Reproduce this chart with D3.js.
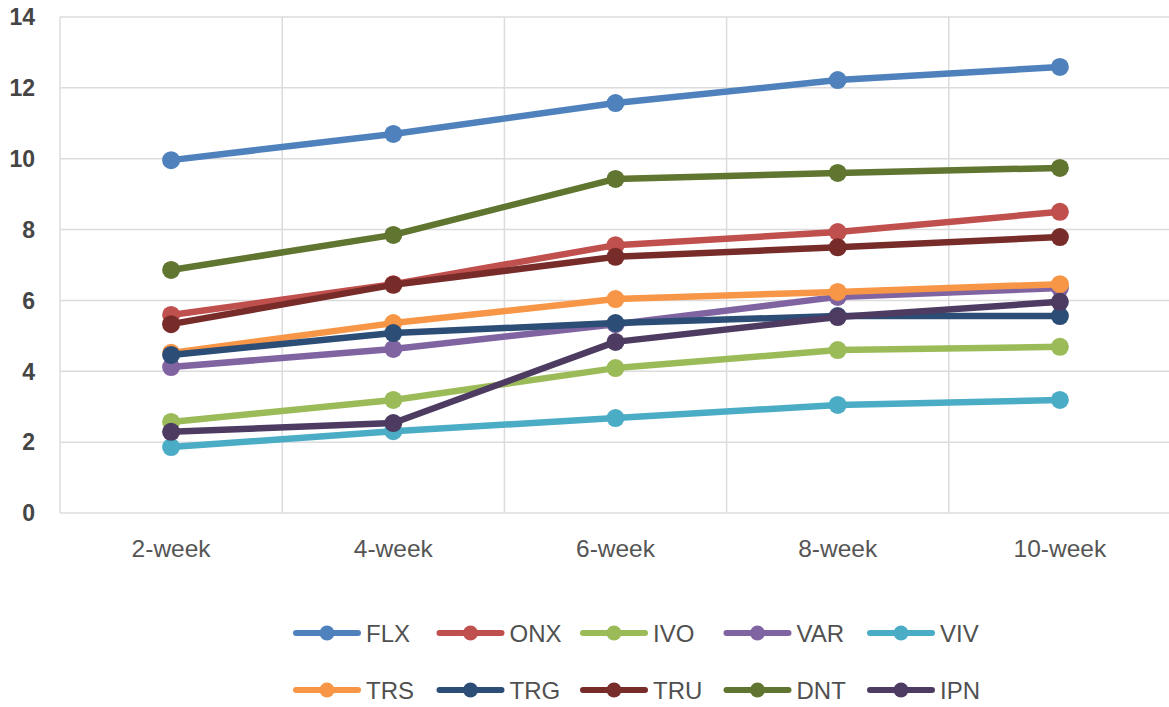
<!DOCTYPE html>
<html>
<head>
<meta charset="utf-8">
<script src="https://cdn.jsdelivr.net/npm/d3@7"></script>
<style>
  body { margin: 0; background: #fff; }
  svg { display: block; font-family: "Liberation Sans", Arial, sans-serif; }
</style>
</head>
<body>
<svg id="chart" width="1169" height="707"></svg>
<script>
var weeks = ['2-week', '4-week', '6-week', '8-week', '10-week'];
var yTicks = [0, 2, 4, 6, 8, 10, 12, 14];

var names = ['FLX', 'ONX', 'IVO', 'VAR', 'VIV', 'TRS', 'TRG', 'TRU', 'DNT', 'IPN'];
var colors = ['#4f81bd', '#c0504d', '#9bbb59', '#8064a2', '#4bacc6',
              '#f79646', '#2c4d75', '#772c2a', '#5f7530', '#4d3b62'];

var FLX = [9.96, 10.7, 11.57, 12.22, 12.59];
var ONX = [5.59, 6.46, 7.56, 7.93, 8.5];
var IVO = [2.57, 3.19, 4.09, 4.6, 4.69];
var VAR = [4.12, 4.63, 5.33, 6.1, 6.35];
var VIV = [1.86, 2.31, 2.68, 3.05, 3.19];
var TRS = [4.52, 5.36, 6.04, 6.24, 6.46];
var TRG = [4.46, 5.08, 5.36, 5.56, 5.56];
var TRU = [5.33, 6.44, 7.23, 7.5, 7.79];
var DNT = [6.86, 7.85, 9.43, 9.6, 9.74];
var IPN = [2.29, 2.54, 4.83, 5.53, 5.96];

var seriesVals = [FLX, ONX, IVO, VAR, VIV, TRS, TRG, TRU, DNT, IPN];

var svg = d3.select('#chart');
var plotLeft = 60, plotRight = 1171, plotTop = 17, plotBottom = 513;

var x = d3.scaleBand().domain(weeks).range([plotLeft, plotRight]);
var y = d3.scaleLinear().domain([0, 14]).range([plotBottom, plotTop]);

// grid
var grid = svg.append('g');
grid.selectAll('line.h').data(yTicks).enter().append('line')
    .attr('x1', plotLeft).attr('x2', plotRight)
    .attr('y1', d => y(d)).attr('y2', d => y(d))
    .attr('stroke', '#dcdcdc').attr('stroke-width', 1.5);
var vx = weeks.map(w => x(w)).concat([plotRight]);
grid.selectAll('line.v').data(vx).enter().append('line')
    .attr('x1', d => d).attr('x2', d => d)
    .attr('y1', plotTop).attr('y2', plotBottom)
    .attr('stroke', '#dcdcdc').attr('stroke-width', 1.5);

// y labels
svg.append('g').selectAll('text').data(yTicks).enter().append('text')
    .attr('x', 35).attr('y', d => y(d))
    .attr('dy', '0.36em')
    .attr('text-anchor', 'end')
    .attr('font-size', 23).attr('font-weight', 'bold')
    .attr('fill', '#454545')
    .text(d => d);

// x labels
svg.append('g').selectAll('text').data(weeks).enter().append('text')
    .attr('x', d => x(d) + x.bandwidth() / 2).attr('y', 557)
    .attr('text-anchor', 'middle')
    .attr('font-size', 24.5)
    .attr('fill', '#555')
    .text(d => d);

// series
var line = d3.line()
    .x((d, i) => x(weeks[i]) + x.bandwidth() / 2)
    .y(d => y(d));

names.forEach(function(n, k) {
    var g = svg.append('g');
    g.append('path')
        .attr('d', line(seriesVals[k]))
        .attr('fill', 'none')
        .attr('stroke', colors[k])
        .attr('stroke-width', 6.5)
        .attr('stroke-linejoin', 'round');
    g.selectAll('circle').data(seriesVals[k]).enter().append('circle')
        .attr('cx', (d, i) => x(weeks[i]) + x.bandwidth() / 2)
        .attr('cy', d => y(d))
        .attr('r', 9)
        .attr('fill', colors[k]);
});

// legend
var legend = svg.append('g');
names.forEach(function(n, k) {
    var cx = 327 + (k % 5) * 143.5;
    var cy = k < 5 ? 633 : 690;
    var g = legend.append('g');
    g.append('line')
        .attr('x1', cx - 31).attr('x2', cx + 31)
        .attr('y1', cy).attr('y2', cy)
        .attr('stroke', colors[k]).attr('stroke-width', 6)
        .attr('stroke-linecap', 'round');
    g.append('circle').attr('cx', cx).attr('cy', cy).attr('r', 7.5).attr('fill', colors[k]);
    g.append('text')
        .attr('x', cx + 39).attr('y', cy)
        .attr('dy', '0.36em')
        .attr('font-size', 24)
        .attr('fill', '#505050')
        .text(n);
});
</script>
</body>
</html>
